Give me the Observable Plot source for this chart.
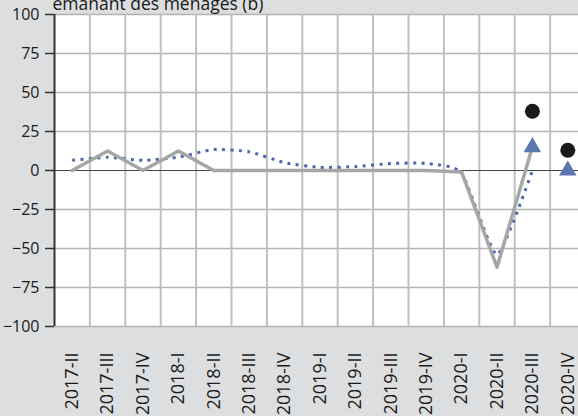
<!DOCTYPE html>
<html>
<head>
<meta charset="utf-8">
<script src="https://cdn.jsdelivr.net/npm/d3@7"></script>
<script src="https://cdn.jsdelivr.net/npm/@observablehq/plot@0.6"></script>
<style>
  html, body { margin: 0; padding: 0; background: #dddee0; overflow: hidden; }
  #chart svg { display: block; }
</style>
</head>
<body>
<div id="chart"></div>
<script>
const title = "émanant des ménages (b)";
const categories = ["2017-II","2017-III","2017-IV","2018-I","2018-II","2018-III","2018-IV","2019-I","2019-II","2019-III","2019-IV","2020-I","2020-II","2020-III","2020-IV"];
const solidValues = [0, 12.5, 0, 12.5, 0, 0, 0, 0, 0, 0, 0, -1, -62, 15];
const dottedValues = [6.5, 8.5, 6.5, 8.5, 13.5, 12, 5, 2, 2.5, 4.5, 4.5, -1.5, -54, 0];
const circleCats = ["2020-III", "2020-IV"];
const circleValues = [38, 13];
const triangleCats = ["2020-III", "2020-IV"];
const triangleValues = [15, 0];
const yTicks = [-100, -75, -50, -25, 0, 25, 50, 75, 100];

const idx = c => categories.indexOf(c);
const solid = solidValues.map((v, i) => ({x: i, y: v}));
const dotted = dottedValues.map((v, i) => ({x: i, y: v}));
const circles = circleValues.map((v, i) => ({x: idx(circleCats[i]), y: v}));
const triangles = triangleValues.map((v, i) => ({x: idx(triangleCats[i]), y: v}));
const gridX = d3.range(1, categories.length + 1).map(i => i - 0.5);

const chart = Plot.plot({
  width: 578,
  height: 416,
  marginLeft: 54,
  marginRight: 0,
  marginTop: 14,
  marginBottom: 90,
  style: {background: "transparent", fontFamily: "'Open Sans', sans-serif", fontSize: "16px", color: "#1a1a1a", overflow: "hidden"},
  x: {type: "linear", domain: [-0.5, categories.length - 0.5], range: [54, 585]},
  y: {domain: [-100, 100]},
  marks: [
    Plot.frame({fill: "white", stroke: null}),
    Plot.ruleY(yTicks.filter(d => d !== 0), {stroke: "#b4b4b4", strokeWidth: 1.5}),
    Plot.ruleX(gridX, {stroke: "#c0c0c0", strokeWidth: 2}),
    Plot.ruleY([0], {stroke: "#444", strokeWidth: 1.2}),
    Plot.line(dotted, {x: "x", y: "y", stroke: "#4a67aa", strokeWidth: 3, strokeDasharray: "3 5.4", strokeLinecap: "butt", curve: "cardinal", tension: 0.5}),
    Plot.line(solid, {x: "x", y: "y", stroke: "#a6a6a6", strokeWidth: 3.5}),
    Plot.dot(triangles, {x: "x", y: "y", symbol: "triangle", r: 6.5, fill: "#5a77b0", stroke: null}),
    Plot.dot(circles, {x: "x", y: "y", r: 7.5, fill: "#1a1a1a", stroke: null}),
    Plot.axisY({ticks: yTicks, tickSize: 9, tickPadding: 6, stroke: "#333", strokeWidth: 1.5, fontSize: 16, label: null}),
    Plot.ruleX([-0.5], {stroke: "#333", strokeWidth: 2}),
    Plot.axisX({ticks: d3.range(categories.length), tickFormat: i => categories[i], tickRotate: -90, tickSize: 0, tickPadding: 26, fontSize: 18, label: null}),
    Plot.text([title], {frameAnchor: "top-left", dx: -2, dy: -5, lineAnchor: "bottom", textAnchor: "start", fontSize: 17.5, fill: "#1a1a1a"})
  ]
});
document.getElementById("chart").append(chart);
</script>
</body>
</html>
